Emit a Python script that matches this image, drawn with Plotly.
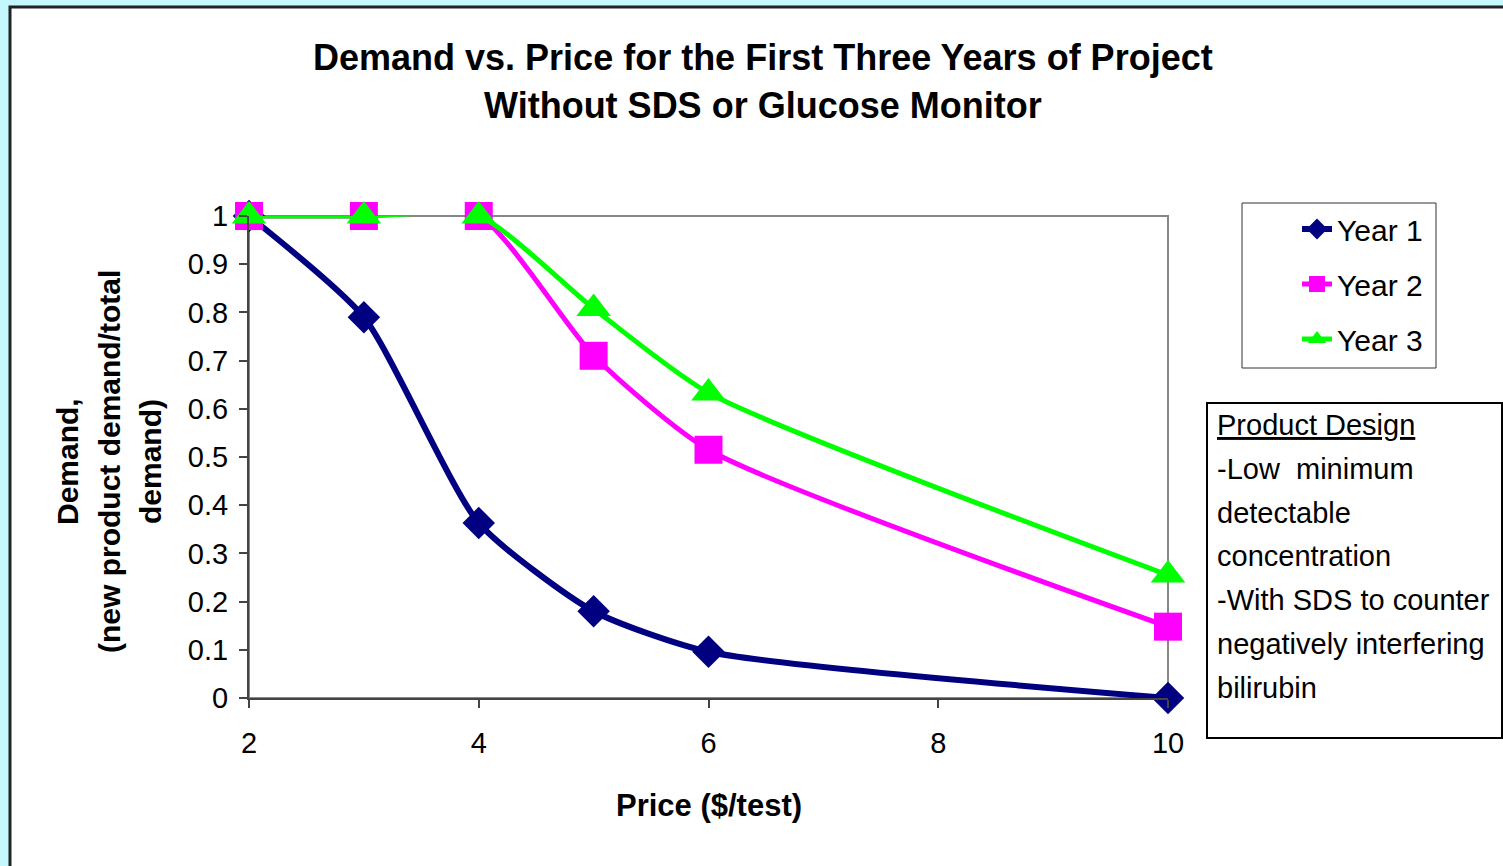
import plotly.graph_objects as go

# Price points ($/test) and demand fractions for each project year
price = [2, 3, 4, 5, 6, 10]
year1 = [1.0, 0.79, 0.363, 0.18, 0.096, 0.0]
year2 = [1.0, 1.0, 1.0, 0.71, 0.515, 0.148]
year3 = [1.0, 1.0, 1.0, 0.808, 0.633, 0.255]

series_names = ["Year 1", "Year 2", "Year 3"]
series_colors = ["#000080", "#FF00FF", "#00FF00"]
series_symbols = ["diamond", "square", "triangle-up"]
series_sizes = [25, 28, 30]
series_widths = [6, 5, 5]

title_lines = ["Demand vs. Price for the First Three Years of Project",
               "Without SDS or Glucose Monitor"]
y_title_lines = ["Demand,", "(new product demand/total", "demand)"]
x_title = "Price ($/test)"
note_lines = ["<u>Product Design</u>", "-Low  minimum", "detectable",
              "concentration", "-With SDS to counter",
              "negatively interfering", "bilirubin"]

FONT = "Liberation Sans, Arial, sans-serif"
W, H = 1503, 866
L, R, T, B = 249, 1168, 216, 698          # plot area in pixels
PW, PH = R - L, B - T


def px(xp):
    return (xp - L) / PW


def py(yp):
    return (B - yp) / PH


fig = go.Figure()
for name, ys, col, sym, sz, lw in zip(series_names, [year1, year2, year3],
                                      series_colors, series_symbols,
                                      series_sizes, series_widths):
    fig.add_trace(go.Scatter(
        x=price, y=ys, name=name, legendgroup=name,
        mode="lines+markers",
        line=dict(color=col, width=lw, shape="spline", smoothing=0.6),
        marker=dict(symbol=sym, size=sz, color=col),
        cliponaxis=False,
    ))

shapes = [
    # white chart panel with dark edge
    dict(type="rect", xref="paper", yref="paper",
         x0=px(10), x1=px(1520), y0=py(890), y1=py(7),
         line=dict(color="#222222", width=3), fillcolor="white", layer="below"),
    # grey plot-area frame
    dict(type="rect", xref="paper", yref="paper", x0=0, x1=1, y0=0, y1=1,
         line=dict(color="#888888", width=2), layer="below"),
    # legend box
    dict(type="rect", xref="paper", yref="paper",
         x0=px(1242), x1=px(1436), y0=py(368), y1=py(203),
         line=dict(color="#333333", width=1), fillcolor="white", layer="below"),
    # text box
    dict(type="rect", xref="paper", yref="paper",
         x0=px(1207), x1=px(1502), y0=py(738), y1=py(403),
         line=dict(color="black", width=2), fillcolor="white", layer="below"),
]

annotations = []
for txt, yc in zip(title_lines, [57, 106]):
    annotations.append(dict(text=f"<b>{txt}</b>", xref="paper", yref="paper",
                            x=px(763), y=py(yc), xanchor="center", yanchor="middle",
                            showarrow=False, font=dict(size=36, color="black", family=FONT)))
for txt, xc in zip(y_title_lines, [67, 109, 150]):
    annotations.append(dict(text=f"<b>{txt}</b>", xref="paper", yref="paper",
                            x=px(xc), y=py(462), xanchor="center", yanchor="middle",
                            textangle=-90, showarrow=False,
                            font=dict(size=30, color="black", family=FONT)))
annotations.append(dict(text=f"<b>{x_title}</b>", xref="paper", yref="paper",
                        x=px(709), y=py(805), xanchor="center", yanchor="middle",
                        showarrow=False, font=dict(size=31, color="black", family=FONT)))
for i, txt in enumerate(note_lines):
    annotations.append(dict(text=txt, xref="paper", yref="paper",
                            x=px(1215), y=py(425 + 43.8 * i), xanchor="left", yanchor="middle",
                            showarrow=False, font=dict(size=29, color="black", family=FONT)))

fig.update_layout(
    width=W, height=H,
    margin=dict(l=L, r=W - R, t=T, b=H - B, pad=0),
    paper_bgcolor="#C5F7FE", plot_bgcolor="white",
    font=dict(family=FONT, color="black"),
    showlegend=True,
    legend=dict(x=px(1297), y=py(203), xanchor="left", yanchor="top",
                bgcolor="rgba(0,0,0,0)", borderwidth=0,
                font=dict(size=30, color="black", family=FONT),
                tracegroupgap=13, itemsizing="trace"),
    shapes=shapes, annotations=annotations,
)
fig.update_xaxes(range=[2, 10], dtick=2, tick0=2, showgrid=False, zeroline=False,
                 showline=True, linecolor="#444444", linewidth=2,
                 ticks="outside", ticklen=8, tickwidth=1.5, tickcolor="#444444",
                 ticklabelstandoff=10, tickfont=dict(size=29, family=FONT, color="black"))
fig.update_yaxes(range=[0, 1], dtick=0.1, tick0=0, showgrid=False, zeroline=False,
                 showline=True, linecolor="#444444", linewidth=2,
                 ticks="outside", ticklen=8, tickwidth=1.5, tickcolor="#444444",
                 ticklabelstandoff=5, tickfont=dict(size=29, family=FONT, color="black"))

fig.write_html("out.html")
